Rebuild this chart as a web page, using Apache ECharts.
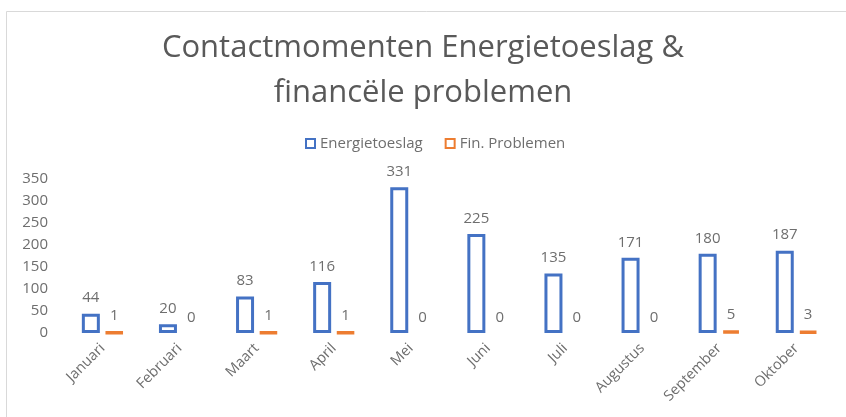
<!DOCTYPE html>
<html style="height: 100%">
<head>
	<meta charset="utf-8">
</head>
<body style="height: 100%; margin: 0; background: #fff">
<div id="container" style="width: 846px; height: 417px"></div>
<script type="text/javascript" src="https://cdn.jsdelivr.net/npm/echarts@6/dist/echarts.min.js"></script>
<script type="text/javascript">
    var months = ['Januari', 'Februari', 'Maart', 'April', 'Mei', 'Juni', 'Juli', 'Augustus', 'September', 'Oktober'];
    var energietoeslag = [44, 20, 83, 116, 331, 225, 135, 171, 180, 187];
    var finProblemen = [1, 0, 1, 1, 0, 0, 0, 0, 5, 3];

    var dom = document.getElementById("container");
    var myChart = echarts.init(dom);
    var font = '"Open Sans", sans-serif';
    var grey = '#6e6e6e';

    // Excel doesn't draw an outline for a zero-height bar, so drop the border there
    function barData(values) {
        return values.map(function (v) {
            return v === 0 ? { value: v, itemStyle: { borderWidth: 0 } } : v;
        });
    }

    var labelStyle = {
        show: true,
        position: 'top',
        distance: 8,
        color: grey,
        fontSize: 15,
        fontFamily: font
    };

    var option = {
        backgroundColor: '#fff',
        animation: false,
        graphic: [{
            type: 'rect',
            shape: { x: 6.5, y: 11.5, width: 900, height: 500 },
            style: { fill: 'none', stroke: '#d9d9d9', lineWidth: 1 }
        }],
        title: {
            text: 'Contactmomenten Energietoeslag &\nfinancële problemen',
            left: 'center',
            top: 21,
            textStyle: {
                color: '#595959',
                fontSize: 31,
                fontWeight: 'normal',
                fontFamily: font,
                lineHeight: 45
            }
        },
        legend: {
            left: 300,
            top: 131,
            icon: 'rect',
            itemWidth: 9,
            itemHeight: 9,
            itemGap: 22,
            textStyle: { color: grey, fontSize: 15, fontFamily: font },
            data: ['Energietoeslag', 'Fin. Problemen']
        },
        grid: {
            left: 64,
            right: 11,
            top: 179,
            bottom: 84
        },
        xAxis: {
            type: 'category',
            data: months,
            axisLine: { show: false },
            axisTick: { show: false },
            axisLabel: {
                rotate: 45,
                margin: 13,
                color: grey,
                fontSize: 14.5,
                fontFamily: font
            }
        },
        yAxis: {
            type: 'value',
            min: 0,
            max: 350,
            interval: 50,
            splitLine: { show: false },
            axisLine: { show: false },
            axisTick: { show: false },
            axisLabel: {
                margin: 16,
                color: grey,
                fontSize: 15,
                fontFamily: font
            }
        },
        series: [{
            name: 'Energietoeslag',
            type: 'bar',
            data: barData(energietoeslag),
            barWidth: 18,
            barGap: '30%',
            itemStyle: { color: '#fff', borderColor: '#4472C4', borderWidth: 3 },
            label: labelStyle
        }, {
            name: 'Fin. Problemen',
            type: 'bar',
            data: barData(finProblemen),
            barWidth: 18,
            itemStyle: { color: '#fff', borderColor: '#ED7D31', borderWidth: 3.5 },
            label: labelStyle
        }]
    };

    myChart.setOption(option);
</script>
</body>
</html>
